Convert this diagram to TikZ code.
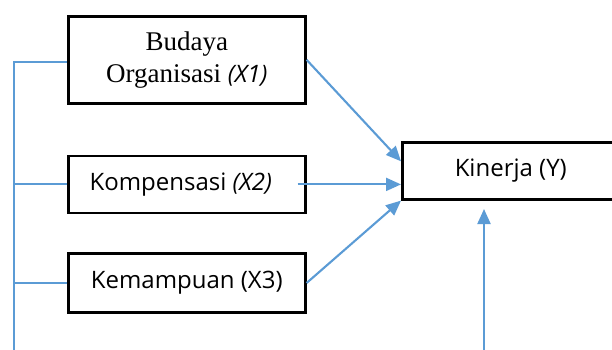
\documentclass[tikz,border=0pt]{standalone}
\usepackage{fontspec}
\setmainfont{Liberation Serif}
\setsansfont{Open Sans}
\usepackage{tikz}
\usetikzlibrary{arrows.meta, positioning}
\definecolor{lblue}{RGB}{91,155,213}

\begin{document}
\begin{tikzpicture}[
  x=1pt, y=-1pt,
  node distance = 50pt and 97pt,
  varbox/.style = {rectangle, draw=black, line width=2.6pt, fill=white,
                   minimum width=237pt, align=center, inner sep=0pt,
                   font=\fontsize{24}{32}\sffamily},
  link/.style   = {lblue, line width=2.1pt},
  arr/.style    = {-{Triangle[length=15pt,width=13pt]}, lblue, line width=2.1pt},
]
\clip (0,0) rectangle (612,350);
\useasboundingbox (0,0) rectangle (612,350);
% variables X
\node[varbox, minimum height=87pt, anchor=north west] (bud) at (67,15)
  {\fontsize{27}{35}\rmfamily Budaya\\\fontsize{27}{35}\rmfamily Organisasi \fontsize{24}{32}\sffamily\itshape(X1)};
\node[varbox, minimum height=57pt, below=50pt of bud] (komp) {Kompensasi \textit{(X2)}\hspace{12pt}};
\node[varbox, minimum height=59pt, below=38pt of komp] (kemp) {Kemampuan (X3)};
% variable Y
\node[varbox, minimum width=217pt, minimum height=57pt, anchor=north west] (kin) at (401,141) {Kinerja (Y)};
\coordinate (ltop) at (14,62);
\coordinate (lbot) at (14,350);
\coordinate (ybot) at (484,350);
\coordinate (ytip) at (484,209);
% bracket on the left
\draw[link] (lbot) -- (ltop) -- (ltop -| bud.west);
\draw[link] (komp.west) -- (komp.west -| ltop);
\draw[link] (kemp.west) -- (kemp.west -| ltop);
% arrows to Y
\draw[arr] (bud.east) -- ([yshift=9.5pt]kin.west);
\draw[arr] ([xshift=-9pt]komp.east) -- (komp.east -| kin.west);
\draw[arr] (kemp.east) -- (kin.south west);
\draw[arr] (ybot) -- (ytip);
\end{tikzpicture}
\end{document}
